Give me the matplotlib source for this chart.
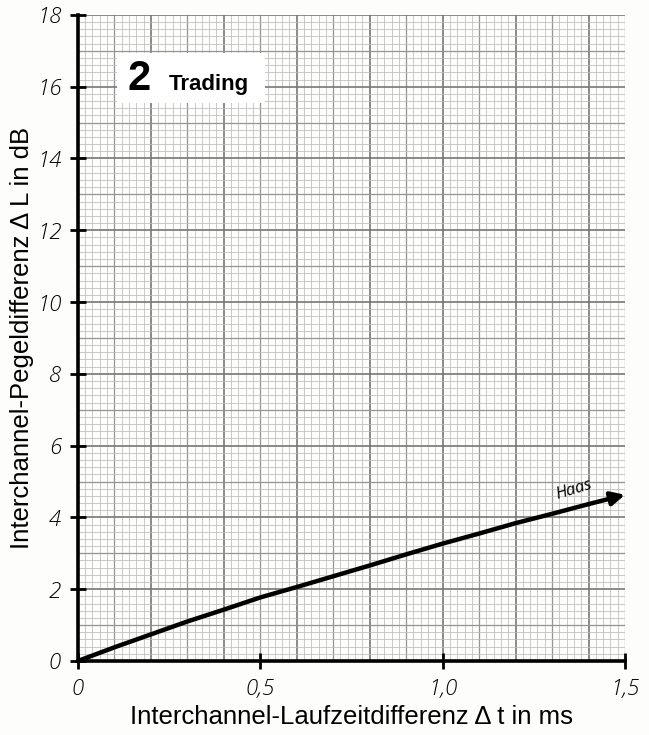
"""Haas trading curve on graph paper."""

import numpy as np
import matplotlib
matplotlib.use("Agg")
import matplotlib.pyplot as plt

# curve values
delay_ms = [0.0, 0.1, 0.2, 0.3, 0.4, 0.5, 0.6, 0.7, 0.8, 0.9, 1.0, 1.1, 1.2, 1.3, 1.4, 1.5]
level_db = [0.0, 0.38, 0.74, 1.1, 1.43, 1.77, 2.06, 2.36, 2.66, 2.97, 3.27, 3.55, 3.84, 4.1, 4.37, 4.63]

x_ticks = [0.0, 0.5, 1.0, 1.5]
x_tick_labels = ["0", "0,5", "1,0", "1,5"]
y_ticks = [0, 2, 4, 6, 8, 10, 12, 14, 16, 18]

sans = "Liberation Sans"
hand = "Open Sans"

fig = plt.figure(figsize=(6.49, 7.35), dpi=100)
fig.patch.set_facecolor("#fdfdfb")
ax = fig.add_axes([0.120, 0.1007, 0.843, 0.879])
ax.set_facecolor("#fdfdfb")
ax.set_xlim(0, 1.5)
ax.set_ylim(0, 18)

# graph paper: 1 cm cells, 5 mm and 1 mm subdivisions
gx = np.arange(0, 1.5001, 0.02)
gy = np.arange(0, 18.001, 0.2)
for i, v in enumerate(gx):
    if i % 10 == 0:
        c, lw = "#777777", 1.2
    elif i % 5 == 0:
        c, lw = "#959595", 0.9
    else:
        c, lw = "#bdbdbd", 0.55
    ax.axvline(v, color=c, lw=lw, zorder=0)
for i, v in enumerate(gy):
    if i % 10 == 0:
        c, lw = "#777777", 1.2
    elif i % 5 == 0:
        c, lw = "#959595", 0.9
    else:
        c, lw = "#bdbdbd", 0.55
    ax.axhline(v, color=c, lw=lw, zorder=0)

ax.plot(delay_ms[:-1], level_db[:-1], color="black", lw=3.2, solid_capstyle="round", zorder=3)
ax.annotate("", xy=(delay_ms[-1], level_db[-1]), xytext=(delay_ms[-2], level_db[-2]),
            arrowprops=dict(arrowstyle="-|>", color="black", lw=3.2, mutation_scale=20,
                            shrinkA=0, shrinkB=0), zorder=3)
ax.text(1.36, 4.78, "Haas", rotation=17, ha="center", va="center", fontsize=12,
        family=hand, style="italic", zorder=4)

# label box
ax.add_patch(plt.Rectangle((0.107, 15.55), 0.407, 1.38, facecolor="white", edgecolor="none", zorder=4))
ax.text(0.135, 16.22, "2", fontsize=30, fontweight="bold", family=sans, va="center", zorder=5)
ax.text(0.25, 16.05, "Trading", fontsize=16, fontweight="bold", family=sans, va="center", zorder=5)

for side in ("top", "right"):
    ax.spines[side].set_visible(False)
for side in ("left", "bottom"):
    ax.spines[side].set_linewidth(2.6)
ax.set_xticks(x_ticks)
ax.set_xticklabels(x_tick_labels)
ax.set_yticks(y_ticks)
ax.tick_params(direction="inout", length=12, width=2, pad=6)
for lab in ax.get_xticklabels() + ax.get_yticklabels():
    lab.set_family(hand)
    lab.set_style("italic")
    lab.set_fontweight("light")
    lab.set_fontsize(16)

ax.set_xlabel("Interchannel-Laufzeitdifferenz \u0394 t in ms", family=sans, fontsize=18.5, labelpad=4)
ax.set_ylabel("Interchannel-Pegeldifferenz \u0394 L in dB", family=sans, fontsize=18.5, labelpad=2)

fig.savefig("out.png", dpi=100, facecolor=fig.get_facecolor())
